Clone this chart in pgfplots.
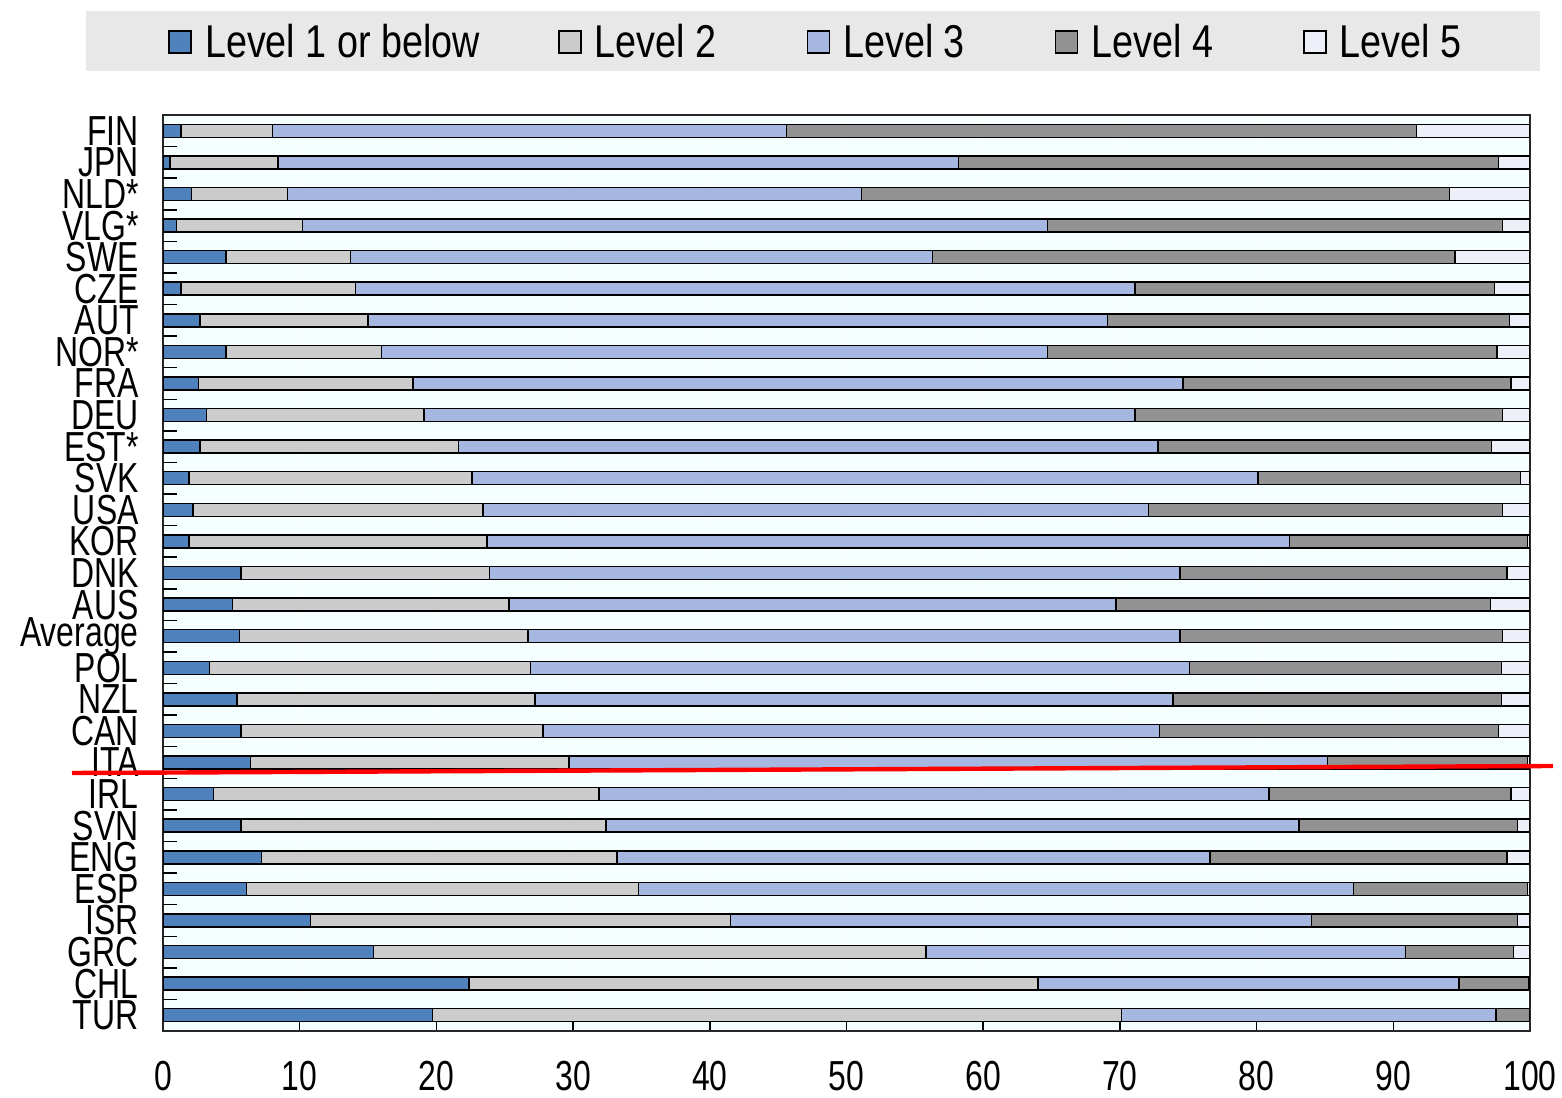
\documentclass[border=0pt]{standalone}
\usepackage{fontspec}
\setmainfont[FakeStretch=0.76]{Liberation Sans}
\newfontfamily\legfont[FakeStretch=0.82]{Liberation Sans}
\usepackage{pgfplots}
\usepackage{pgfplotstable}
\pgfplotsset{compat=1.18}
\definecolor{cA}{RGB}{79,129,189}
\definecolor{cB}{RGB}{204,204,204}
\definecolor{cC}{RGB}{166,183,226}
\definecolor{cD}{RGB}{146,146,146}
\definecolor{cE}{RGB}{237,240,248}
\definecolor{bgc}{RGB}{245,255,255}
\definecolor{legbg}{RGB}{232,232,232}

\pgfplotstableread{
idx a b c d e
0 1.3 6.7 37.6 46.1 8.3
1 0.5 7.9 49.8 39.5 2.3
2 2.1 7.0 42.0 43.0 5.9
3 1.0 9.2 54.5 33.3 2.0
4 4.6 9.1 42.6 38.2 5.5
5 1.3 12.8 57.0 26.3 2.6
6 2.7 12.3 54.1 29.4 1.5
7 4.6 11.4 48.7 32.9 2.4
8 2.6 15.7 56.3 24.0 1.4
9 3.2 15.9 52.0 26.9 2.0
10 2.7 18.9 51.2 24.4 2.8
11 1.9 20.7 57.5 19.2 0.7
12 2.2 21.2 48.7 25.9 2.0
13 1.9 21.8 58.7 17.4 0.2
14 5.7 18.2 50.5 23.9 1.7
15 5.1 20.2 44.4 27.4 2.9
16 5.6 21.1 47.7 23.6 2.0
17 3.4 23.5 48.2 22.8 2.1
18 5.4 21.8 46.7 24.0 2.1
19 5.7 22.1 45.1 24.8 2.3
20 6.4 23.3 55.5 14.6 0.2
21 3.7 28.2 49.0 17.7 1.4
22 5.7 26.7 50.7 16.0 0.9
23 7.2 26.0 43.4 21.7 1.7
24 6.1 28.7 52.3 12.7 0.2
25 10.8 30.7 42.5 15.1 0.9
26 15.4 40.4 35.1 7.9 1.2
27 22.4 41.6 30.8 5.1 0.1
28 19.7 50.4 27.4 2.5 0.0
}\data

\begin{document}
\begin{tikzpicture}
\path (-81.5pt,-33pt) rectangle (699.5pt,515.5pt);
\fill[legbg] (-38.5pt,480pt) rectangle (688.5pt,510pt);
\begin{axis}[
  at={(0,0)}, anchor=south west,
  scale only axis, width=683.5pt, height=458pt,
  xbar stacked, bar width=6.5pt,
  xmin=0, xmax=100, ymin=-0.5, ymax=28.5, y dir=reverse,
  axis background/.style={fill=bgc},
  axis line style={line width=0.8pt, black!85},
  tick align=inside, major tick length=7pt,
  tick style={black, line width=0.75pt},
  xtick={0,10,...,100}, xtick pos=bottom,
  xmajorgrids, grid style={white, line width=0.6pt},
  ytick={0,...,28}, ytick pos=left,
  yticklabels={FIN,JPN,NLD*,VLG*,SWE,CZE,AUT,NOR*,FRA,DEU,EST*,SVK,USA,KOR,DNK,AUS,Average,POL,NZL,CAN,ITA,IRL,SVN,ENG,ESP,ISR,GRC,CHL,TUR},
  ytick style={draw=none},
  extra y ticks={0.5,1.5,...,27.5},
  extra y tick labels={},
  extra y tick style={ytick style={draw=black, line width=0.75pt}},
  /pgf/number format/assume math mode=true,
  yticklabel style={font=\fontsize{21pt}{21pt}\selectfont, anchor=east, inner sep=0pt, xshift=-12pt},
  xticklabel style={font=\fontsize{21pt}{21pt}\selectfont, anchor=north, inner sep=0pt, yshift=-15pt},
  every axis plot/.append style={draw=black, line width=0.75pt},
  legend columns=5,
  legend style={at={(0,1)}, anchor=west, xshift=2.5pt, yshift=36.5pt, draw=none, fill=none, inner sep=0pt,
    font=\legfont\fontsize{23pt}{23pt}\selectfont,
    nodes={inner sep=0pt}},
  legend image code/.code={\draw[#1, draw=black, line width=0.75pt] (0pt,-5.5pt) rectangle (11pt,5.5pt); \path[draw=none, fill=none] (0pt,0pt) -- (18pt,0pt);},
]
\addplot[fill=cA] table[x=a, y=idx] {\data};
\addlegendentry{\makebox[176.5pt][l]{Level 1 or below}}
\addplot[fill=cB] table[x=b, y=idx] {\data};
\addlegendentry{\makebox[105.8pt][l]{Level 2}}
\addplot[fill=cC] table[x=c, y=idx] {\data};
\addlegendentry{\makebox[105.8pt][l]{Level 3}}
\addplot[fill=cD] table[x=d, y=idx] {\data};
\addlegendentry{\makebox[105.8pt][l]{Level 4}}
\addplot[fill=cE] table[x=e, y=idx] {\data};
\addlegendentry{Level 5}
\end{axis}
\draw[red, line width=2.2pt] (-45.5pt,129pt) -- (695pt,132.5pt);
\end{tikzpicture}
\end{document}
